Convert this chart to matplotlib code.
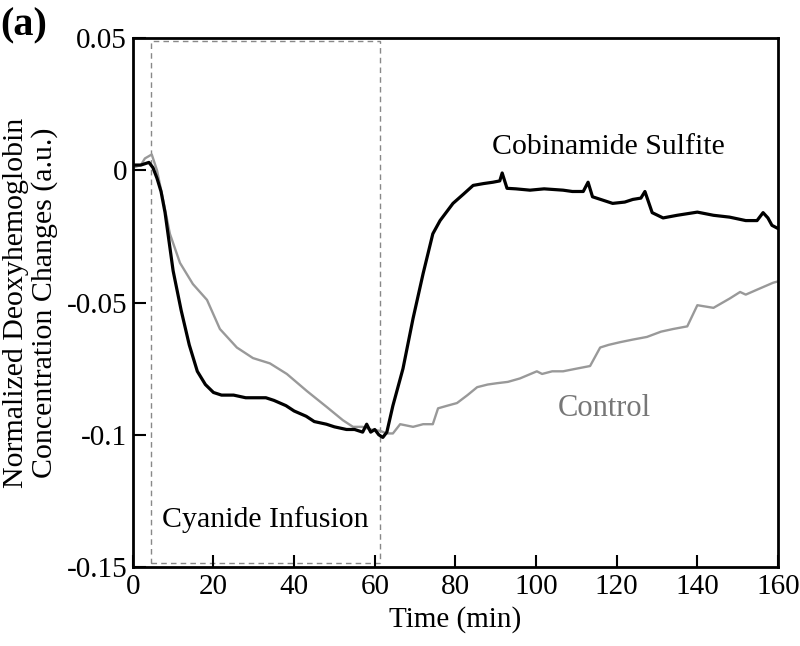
import matplotlib
matplotlib.use("Agg")
from matplotlib import pyplot
from matplotlib.patches import Rectangle

pyplot.rcParams["font.family"] = ["Liberation Serif", "DejaVu Serif"]

# Cobinamide sulfite (black trace)
t_cob = [0, 2, 4, 5, 6, 7, 8, 9, 10, 12, 14, 16, 18, 20, 22, 25, 28, 30, 33, 35,
         38, 40, 43, 45, 48, 50, 53, 55, 57, 58, 59, 60, 61, 62, 63, 64.5, 67,
         69.5, 72, 74.4, 76.2, 79.4, 82, 84.4, 87, 89.3, 91, 91.6, 92.8, 95,
         98.5, 102, 106.7, 109, 111.7, 112.9, 114, 116, 119, 122, 124, 126, 127,
         128.8, 131.5, 135, 140, 144, 148, 152, 154.8, 156.3, 157.5, 158.5, 160]
v_cob = [0.002, 0.002, 0.003, 0.001, -0.003, -0.008, -0.016, -0.027, -0.038,
         -0.053, -0.066, -0.076, -0.081, -0.084, -0.085, -0.085, -0.086, -0.086,
         -0.086, -0.087, -0.089, -0.091, -0.093, -0.095, -0.096, -0.097, -0.098,
         -0.098, -0.099, -0.096, -0.099, -0.098, -0.100, -0.101, -0.099, -0.089,
         -0.075, -0.056, -0.039, -0.024, -0.019, -0.0125, -0.009, -0.0057,
         -0.005, -0.0045, -0.004, -0.001, -0.0068, -0.007, -0.0075, -0.007,
         -0.0075, -0.008, -0.008, -0.0045, -0.010, -0.011, -0.0125, -0.012,
         -0.011, -0.0105, -0.008, -0.016, -0.018, -0.017, -0.0158, -0.017,
         -0.0177, -0.019, -0.019, -0.016, -0.018, -0.0208, -0.022]

# Control (grey trace)
t_ctl = [0, 2, 3, 4.7, 6, 7.5, 9.2, 11.7, 14.9, 18.4, 21.6, 25.8, 29.8, 34,
         38.2, 43.2, 48.1, 52.1, 54.6, 57, 59, 61.3, 63, 64.5, 66.3, 69.5, 72,
         74.4, 75.7, 78, 80.4, 83, 85.4, 88, 90.3, 93, 96, 100.2, 101.5, 104,
         106.7, 110, 113.4, 115.9, 118, 120.8, 124, 127.5, 131, 134, 137.5, 140,
         144, 148, 150.6, 152, 155, 158.8, 160]
v_ctl = [0.001, 0.002, 0.0045, 0.006, 0.0, -0.011, -0.024, -0.035, -0.043,
         -0.049, -0.060, -0.067, -0.071, -0.073, -0.077, -0.0835, -0.0895,
         -0.0945, -0.097, -0.097, -0.098, -0.0985, -0.0995, -0.0995, -0.096,
         -0.097, -0.096, -0.096, -0.090, -0.089, -0.088, -0.085, -0.082, -0.081,
         -0.0805, -0.080, -0.0787, -0.076, -0.077, -0.076, -0.076, -0.075,
         -0.074, -0.067, -0.066, -0.065, -0.064, -0.063, -0.061, -0.060, -0.059,
         -0.051, -0.052, -0.0485, -0.046, -0.047, -0.045, -0.0425, -0.042]

x_ticks = [0, 20, 40, 60, 80, 100, 120, 140, 160]
y_ticks = [-0.15, -0.1, -0.05, 0, 0.05]
y_labels = ["-0.15", "-0.1", "-0.05", "0", "0.05"]

fig = pyplot.figure(figsize=(8, 6.46), dpi=100)
axes = fig.add_axes([0.166, 0.1223, 0.8065, 0.8187])

axes.add_patch(Rectangle((4.6, -0.1485), 61.3 - 4.6, 0.1975, fill=False,
                         edgecolor="#888888", linestyle=(0, (4, 3)), linewidth=1.0))
axes.plot(t_ctl, v_ctl, color="#999999", linewidth=1.7)
axes.plot(t_cob, v_cob, color="black", linewidth=2.3)

axes.set_xlim(0, 160)
axes.set_ylim(-0.15, 0.05)
axes.set_xticks(x_ticks)
axes.set_yticks(y_ticks)
axes.set_yticklabels(y_labels)
axes.tick_params(direction="in", length=9, width=1.5, labelsize=21,
                 top=False, right=False)
axes.tick_params(axis="x", pad=5)
axes.tick_params(axis="y", pad=4)
for s in axes.spines.values():
    s.set_linewidth(2.0)

axes.set_xlabel("Time (min)", fontsize=21)
axes.xaxis.set_label_coords(0.5, -0.074)
axes.set_ylabel("Normalized Deoxyhemoglobin\nConcentration Changes (a.u.)",
                fontsize=21.5, linespacing=1.1)
axes.yaxis.set_label_coords(-0.116, 0.5)

axes.text(117.9, 0.0088, "Cobinamide Sulfite", fontsize=21.5, ha="center", va="center")
axes.text(116.9, -0.0899, "Control", fontsize=22, ha="center", va="center",
          color="#777777")
axes.text(32.9, -0.1322, "Cyanide Infusion", fontsize=21.5, ha="center", va="center")

fig.text(0.029, 0.96, "(a)", fontsize=29, fontweight="bold", ha="center", va="center")

fig.savefig("out.png", dpi=100)
